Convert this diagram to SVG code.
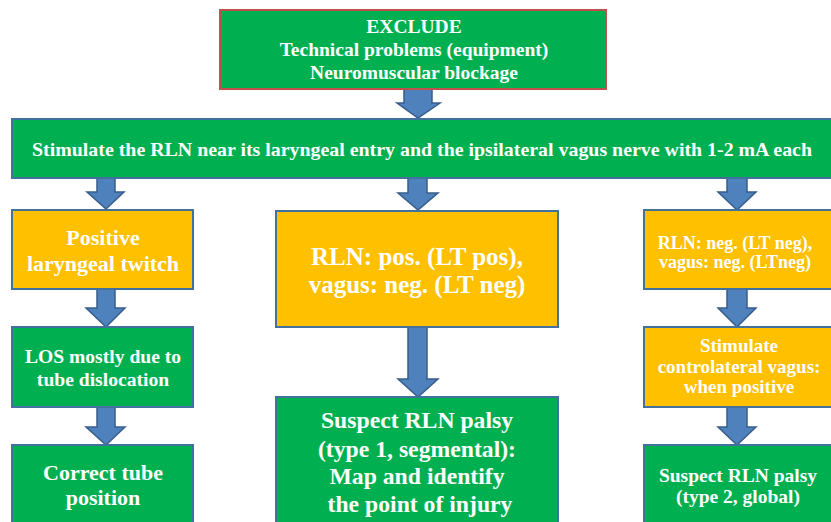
<svg xmlns="http://www.w3.org/2000/svg" width="831" height="522" viewBox="0 0 831 522">
<defs>
<style>
.g{fill:#00B050;stroke:#41719C;stroke-width:2}
.y{fill:#FFC000;stroke:#41719C;stroke-width:2}
.r{fill:#00B050;stroke:#C0504D;stroke-width:2}
.a{fill:#4F81BD;stroke:#385D8A;stroke-width:1.5}
</style>
</defs>
<rect width="831" height="522" fill="#FFFFFF"/>
<g id="connectors">
<path class="a" d="M404,89 H432 V103 H440 L418,118 L397,103 H404 Z"/>
<path class="a" d="M97,178 H115 V192 H124 L106,209 L87,192 H97 Z"/>
<path class="a" d="M408,178 H427 V193 H438 L418,210 L398,193 H408 Z"/>
<path class="a" d="M727,178 H747 V192 H756 L737,210 L718,192 H727 Z"/>
<path class="a" d="M97,289 H115 V308 H125 L106,327 L86,308 H97 Z"/>
<path class="a" d="M97,407 H115 V427 H125 L106,445 L86,427 H97 Z"/>
<path class="a" d="M408,327 H427 V379 H438 L418,397 L398,379 H408 Z"/>
<path class="a" d="M727,289 H747 V308 H756 L737,327 L718,308 H727 Z"/>
<path class="a" d="M727,407 H747 V427 H756 L737,445 L718,427 H727 Z"/>
</g>
<g font-family="'Liberation Serif', 'DejaVu Serif', serif" font-weight="bold" fill="#FFFFFF" text-anchor="middle">
<g id="exclude">
<rect class="r" x="220" y="10" width="386" height="79"/>
<text x="414" y="33" font-size="19.5">EXCLUDE</text>
<text x="414" y="56" font-size="19.5">Technical problems (equipment)</text>
<text x="414" y="79" font-size="19.5">Neuromuscular blockage</text>
</g>
<g id="stimulate">
<rect class="g" x="12" y="119" width="821" height="59"/>
<text x="422" y="155.5" font-size="19" textLength="780" lengthAdjust="spacingAndGlyphs">Stimulate the RLN near its laryngeal entry and the ipsilateral vagus nerve with 1-2 mA each</text>
</g>
<g id="positive">
<rect class="y" x="12" y="210" width="181" height="79"/>
<text x="103" y="245" font-size="22">Positive</text>
<text x="103" y="271" font-size="22">laryngeal twitch</text>
</g>
<g id="los">
<rect class="g" x="12" y="327" width="181" height="80"/>
<text x="103" y="363" font-size="19.6">LOS mostly due to</text>
<text x="103" y="386" font-size="19.6">tube dislocation</text>
</g>
<g id="correct">
<rect class="g" x="12" y="445" width="181" height="90"/>
<text x="103" y="480" font-size="22">Correct tube</text>
<text x="103" y="505" font-size="22">position</text>
</g>
<g id="rlnpos">
<rect class="y" x="276" y="211" width="282" height="116"/>
<text x="417" y="265" font-size="25">RLN: pos. (LT pos),</text>
<text x="417" y="293" font-size="25">vagus: neg. (LT neg)</text>
</g>
<g id="type1">
<rect class="g" x="276" y="397" width="282" height="140"/>
<text x="417" y="428" font-size="23.7">Suspect RLN palsy</text>
<text x="417" y="457" font-size="23.7">(type 1, segmental):</text>
<text x="417" y="484" font-size="23.7">Map and identify</text>
<text x="420" y="512" font-size="23.7">the point of injury</text>
</g>
<g id="rlnneg">
<rect class="y" x="644" y="210" width="200" height="79"/>
<text x="735" y="249" font-size="18">RLN: neg. (LT neg),</text>
<text x="735" y="268" font-size="18">vagus: neg. (LTneg)</text>
</g>
<g id="contralateral">
<rect class="y" x="644" y="327" width="200" height="80"/>
<text x="739" y="352" font-size="19">Stimulate</text>
<text x="739" y="373" font-size="19">controlateral vagus:</text>
<text x="739" y="393" font-size="19">when positive</text>
</g>
<g id="type2">
<rect class="g" x="644" y="445" width="200" height="90"/>
<text x="738" y="482" font-size="19.5">Suspect RLN palsy</text>
<text x="738" y="503" font-size="19.5">(type 2, global)</text>
</g>
</g>
</svg>
